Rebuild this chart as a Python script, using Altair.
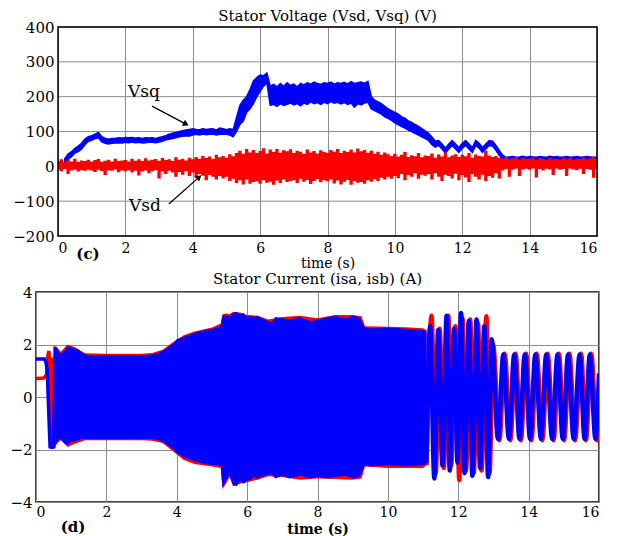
import altair as alt
import pandas as pd

FONT = "DejaVu Serif"

# ---------------- Top panel: stator voltage ----------------
vsd_hi = [15, 20, 12, 18, 14, 22, 13, 17, 15, 19,
          14, 18, 21, 13, 16, 19, 14, 22, 15, 17,
          18, 14, 22, 16, 20, 15, 23, 17, 19, 21,
          16, 24, 18, 20, 15, 26, 19, 22, 17, 25,
          20, 27, 22, 30, 24, 28, 21, 33, 26, 30,
          25, 35, 29, 38, 45, 36, 50, 40, 47, 38,
          44, 52, 37, 48, 41, 50, 39, 46, 43, 49,
          38, 45, 42, 36, 48, 40, 44, 37, 46, 41,
          39, 47, 42, 50, 38, 45, 41, 48, 40, 51,
          43, 47, 39, 45, 36, 42, 33, 40, 35, 30,
          36, 28, 33, 41, 27, 32, 29, 38, 26, 31,
          30, 37, 25, 34, 28, 40, 26, 31, 35, 27,
          33, 29, 38, 25, 34, 30, 28, 45, 31, 27,
          30, 24, 22, 27, 20, 23, 26, 19, 24, 21,
          22, 25, 19, 23, 21, 18, 24, 20, 22, 19,
          23, 20, 24, 18, 22, 21, 25, 19, 23, 26,
          20]
vsd_lo = [-10, -14, -8, -22, -12, -9, -15, -11, -13, -10,
          -12, -16, -10, -14, -25, -11, -13, -9, -17, -12,
          -14, -11, -18, -13, -26, -15, -12, -20, -14, -11,
          -35, -15, -22, -13, -18, -30, -16, -24, -14, -28,
          -18, -33, -22, -27, -40, -25, -30, -38, -28, -35,
          -30, -42, -36, -48, -40, -52, -38, -50, -45, -43,
          -50, -40, -47, -44, -53, -41, -48, -38, -45, -42,
          -40, -48, -36, -44, -39, -51, -42, -37, -46, -40,
          -43, -38, -49, -41, -52, -44, -39, -53, -42, -47,
          -45, -50, -40, -44, -37, -42, -33, -38, -30, -36,
          -28, -34, -22, -40, -25, -30, -20, -36, -24, -27,
          -22, -38, -20, -30, -42, -24, -28, -35, -21, -40,
          -25, -32, -45, -22, -30, -38, -24, -42, -28, -33,
          -20, -35, -12, -8, -30, -10, -6, -28, -9, -7,
          -10, -6, -32, -8, -12, -7, -9, -25, -6, -10,
          -8, -28, -6, -9, -11, -7, -22, -8, -10, -33,
          -8]
vsd_t = [i / 10 for i in range(len(vsd_hi))]

vsq_lo = [10, 20, 28, 38, 42, 50, 62, 72,
          75, 80, 82, 70, 66, 64, 66, 67, 68, 67,
          69, 68, 70, 68, 69, 67, 68, 70, 69, 68,
          70, 72, 76, 78, 80, 82, 85, 86, 88, 87,
          90, 92, 90, 93, 91, 92, 93, 90, 92, 93,
          92, 90, 85, 100, 120, 130, 155, 165, 180, 200,
          215, 230, 240, 175, 178, 172, 180, 175, 178, 182,
          176, 180, 174, 182, 178, 185, 180, 183, 178, 184,
          180, 186, 181, 184, 179, 183, 178, 182, 170, 180,
          176, 182, 184, 165, 160, 155, 150, 142, 138, 132,
          125, 120, 114, 110, 104, 100, 95, 90, 85, 80,
          74, 62, 55, 60, 50, 38, 50, 60, 50, 40,
          52, 60, 50, 40, 60, 52, 40, 50, 60, 58,
          46, 32, 20, 14, 16, 15, 17, 14, 16, 15,
          17, 15, 16, 14, 16, 15, 17, 15, 16, 14,
          16, 15, 17, 15, 16, 14, 16, 15, 17, 15,
          16]
vsq_hi = [22, 35, 42, 52, 58, 66, 78, 85,
          88, 92, 97, 85, 80, 78, 80, 80, 82, 81,
          83, 82, 83, 81, 82, 80, 82, 81, 82, 80,
          83, 85, 88, 92, 95, 97, 100, 102, 104, 106,
          108, 106, 105, 108, 106, 107, 108, 104, 110, 108,
          105, 108, 105, 140, 175, 190, 200, 220, 245, 255,
          262, 260, 268, 230, 235, 228, 238, 230, 240, 232,
          236, 228, 238, 234, 240, 236, 242, 238, 235, 240,
          238, 242, 236, 240, 238, 241, 236, 243, 238, 240,
          242, 238, 244, 200, 190, 185, 180, 172, 165, 160,
          155, 150, 142, 138, 130, 126, 120, 115, 108, 102,
          95, 84, 72, 74, 64, 52, 64, 74, 64, 54,
          66, 74, 64, 54, 74, 66, 54, 64, 74, 72,
          60, 46, 32, 26, 27, 28, 26, 27, 29, 26,
          28, 27, 26, 28, 27, 26, 29, 27, 28, 26,
          27, 28, 26, 27, 28, 26, 27, 28, 27, 26,
          27]
vsq_t = [i / 10 for i in range(2, 2 + len(vsq_hi))]

arrow_grp = ["q", "q", "d", "d"]
arrow_t = [2.79, 3.80, 3.29, 4.19]
arrow_v = [173, 121, -108, -31]
head_t = [3.80, 4.19]
head_v = [121, -31]
head_angle = [118, 48]
label_txt = ["Vsq", "Vsd"]
label_t = [2.55, 2.58]
label_v = [213, -114]

# ---------------- Bottom panel: stator current ----------------
ib_env_t = [0.55, 0.6, 0.7, 0.8, 0.9, 1.0, 1.1, 1.2, 1.3, 1.4,
            1.5, 2.0, 2.5, 3.0, 3.3, 3.5, 3.7, 3.9, 4.0, 4.2,
            4.5, 4.8, 5.0, 5.2, 5.25, 5.3, 5.4, 5.5, 5.6, 5.7,
            5.8, 5.9, 6.0, 6.1, 6.2, 6.3, 6.5, 6.7, 6.8, 7.0,
            7.2, 7.5, 7.8, 8.0, 8.3, 8.5, 8.8, 9.0, 9.2, 9.3,
            9.35, 9.5, 10.0, 10.5, 11.0, 11.1]
ib_env_hi = [1.9, 1.85, 1.65, 1.75, 1.95, 1.9, 1.85, 1.82, 1.7, 1.62,
             1.6, 1.6, 1.6, 1.6, 1.62, 1.7, 1.85, 2.05, 2.2, 2.3,
             2.45, 2.55, 2.6, 2.68, 2.75, 3.1, 3.12, 3.08, 3.2, 3.25,
             3.15, 3.2, 3.05, 3.1, 3.05, 3.1, 2.95, 2.85, 3.05, 3.0,
             2.95, 3.05, 2.9, 2.95, 3.05, 3.1, 3.0, 3.1, 3.05, 2.75,
             2.65, 2.62, 2.65, 2.6, 2.55, 2.5]
ib_env_lo = [-1.9, -1.7, -1.6, -1.75, -1.85, -1.7, -1.7, -1.65, -1.6, -1.6,
             -1.6, -1.6, -1.6, -1.6, -1.6, -1.65, -1.8, -2.0, -2.15, -2.3,
             -2.45, -2.55, -2.6, -2.6, -2.65, -3.45, -3.2, -3.0, -3.35, -3.4,
             -3.2, -3.3, -3.2, -3.15, -3.05, -3.1, -3.0, -2.95, -3.1, -3.0,
             -3.1, -3.0, -3.1, -3.05, -3.1, -3.05, -3.0, -3.1, -3.05, -2.75,
             -2.6, -2.65, -2.6, -2.65, -2.6, -2.55]
ia_env_t = [0.5, 0.6, 0.7, 0.9, 1.1, 1.4, 2.0, 3.0, 3.3, 3.6,
            3.9, 4.2, 4.5, 5.0, 5.25, 5.3, 5.4, 5.5, 5.6, 5.8,
            6.0, 6.3, 6.6, 7.0, 7.5, 8.0, 8.5, 9.0, 9.25, 9.35,
            10.0, 10.5, 11.0, 11.1]
ia_env_hi = [1.95, 1.9, 1.72, 2.0, 1.9, 1.67, 1.65, 1.65, 1.68, 1.8,
             2.1, 2.35, 2.5, 2.65, 2.8, 3.15, 3.18, 3.15, 3.25, 3.22,
             3.12, 3.1, 2.95, 3.05, 3.1, 3.0, 3.12, 3.12, 3.08, 2.7,
             2.68, 2.66, 2.62, 2.55]
ia_env_lo = [-1.95, -1.78, -1.65, -1.9, -1.78, -1.65, -1.65, -1.65, -1.67, -1.75,
             -2.08, -2.4, -2.55, -2.65, -2.7, -3.5, -3.3, -3.05, -3.4, -3.3,
             -3.25, -3.15, -3.02, -3.05, -3.15, -3.1, -3.12, -3.15, -3.1, -2.65,
             -2.7, -2.7, -2.7, -2.6]

ia_start_t = [0, 0.22, 0.26, 0.3, 0.34, 0.37, 0.4, 0.43, 0.46, 0.5]
ia_start_v = [0.7, 0.72, 0.78, 0.85, 1.6, 1.75, 0.5, -1.9, 1.5, -1.95]
ib_start_t = [0, 0.24, 0.28, 0.32, 0.36, 0.4, 0.45, 0.5, 0.55]
ib_start_v = [1.45, 1.45, 1.35, 1.0, -0.5, -1.9, -1.92, -1.9, 1.9]

ia_osc_t = [11.1, 11.24, 11.36, 11.47, 11.59, 11.72, 11.8, 11.92, 12.03, 12.12,
            12.22, 12.34, 12.44, 12.56, 12.66, 12.8, 12.89, 12.99, 13.17, 13.32,
            13.48, 13.63, 13.78, 13.93, 14.08, 14.23, 14.39, 14.54, 14.71, 14.86,
            15.01, 15.16, 15.32, 15.49, 15.63, 15.78, 15.94, 16.0]
ia_osc_v = [-2.6, 3.1, -2.9, 2.6, -2.7, 3.1, -2.6, 2.7, -3.16, 3.0,
            -2.8, 2.95, -2.9, 2.8, -2.8, 3.08, -2.9, 2.0, -1.65, 1.65,
            -1.65, 1.65, -1.65, 1.65, -1.65, 1.65, -1.65, 1.65, -1.65, 1.65,
            -1.65, 1.65, -1.65, 1.65, -1.65, 1.65, -1.65, -0.8]
ib_osc_t = [11.1, 11.2, 11.32, 11.43, 11.55, 11.67, 11.76, 11.88, 11.98, 12.08,
            12.18, 12.3, 12.4, 12.52, 12.62, 12.74, 12.85, 12.95, 13.13, 13.28,
            13.44, 13.59, 13.74, 13.89, 14.04, 14.19, 14.35, 14.5, 14.67, 14.82,
            14.97, 15.12, 15.28, 15.45, 15.59, 15.74, 15.9, 16.0]
ib_osc_v = [-2.5, 2.7, -3.1, 2.55, -2.6, 3.1, -2.8, 2.6, -2.5, 3.2,
            -2.9, 2.9, -3.0, 2.95, -2.7, 2.7, -3.05, 2.2, -1.6, 1.62,
            -1.6, 1.62, -1.6, 1.62, -1.6, 1.62, -1.6, 1.62, -1.6, 1.62,
            -1.6, 1.62, -1.6, 1.62, -1.6, 1.62, -1.6, 0.9]

x_ticks = [0, 2, 4, 6, 8, 10, 12, 14, 16]
v_ticks = [-200, -100, 0, 100, 200, 300, 400]
i_ticks = [-4, -2, 0, 2, 4]

BLUE = "#0000FF"
RED = "#FF0000"
GRID = "#8c8c8c"

# ---------------- top chart ----------------
# The top panel shares its left origin with the bottom one; its plot frame
# starts 22 px further right, so the x range and y axis are shifted.
SHIFT = 22
TW, TH = 561, 209
xt = alt.X("t:Q", scale=alt.Scale(domain=[0, 16], range=[SHIFT, TW], nice=False),
           axis=alt.Axis(values=x_ticks, title="time (s)", titleFontWeight="normal",
                         titlePadding=1, labelPadding=5))
yt_axis = alt.Axis(values=v_ticks, title=None, grid=False, offset=-SHIFT)
yt_scale = alt.Scale(domain=[-200, 400], nice=False)

grid_df = pd.DataFrame({"v": v_ticks, "t": [0] * len(v_ticks), "t1": [16] * len(v_ticks)})
ygrid = alt.Chart(grid_df).mark_rule(color=GRID, strokeWidth=1).encode(
    x=xt, x2="t1:Q", y=alt.Y("v:Q", scale=yt_scale, axis=yt_axis))
frame_df = pd.DataFrame({"t": [0], "t1": [16], "v": [-200], "v1": [400]})
frame = alt.Chart(frame_df).mark_rect(fillOpacity=0, stroke="black", strokeWidth=1.5).encode(
    x=xt, x2="t1:Q", y=alt.Y("v:Q", scale=yt_scale, axis=yt_axis), y2="v1:Q")

vsq_df = pd.DataFrame({"t": vsq_t, "lo": vsq_lo, "hi": vsq_hi})
vsd_df = pd.DataFrame({"t": vsd_t, "lo": vsd_lo, "hi": vsd_hi})

vsq_layer = alt.Chart(vsq_df).mark_area(color=BLUE, opacity=1, clip=True,
                                        stroke=BLUE, strokeWidth=1.5).encode(
    x=xt, y=alt.Y("lo:Q", scale=yt_scale, axis=yt_axis), y2="hi:Q")
vsd_layer = alt.Chart(vsd_df).mark_area(color=RED, opacity=1, interpolate="step", clip=True).encode(
    x=xt, y=alt.Y("lo:Q", scale=yt_scale, axis=yt_axis), y2="hi:Q")

arrow_df = pd.DataFrame({"t": arrow_t, "v": arrow_v, "g": arrow_grp})
arrows = alt.Chart(arrow_df).mark_line(color="black", strokeWidth=1.3).encode(
    x=xt, y=alt.Y("v:Q", scale=yt_scale, axis=yt_axis), detail="g:N")
head_df = pd.DataFrame({"t": head_t, "v": head_v, "a": head_angle})
heads = alt.Chart(head_df).mark_point(shape="triangle-up", filled=True, color="black",
                                      size=45, opacity=1).encode(
    x=xt, y=alt.Y("v:Q", scale=yt_scale, axis=yt_axis),
    angle=alt.Angle("a:Q", scale=None))
lab_df = pd.DataFrame({"t": label_t, "v": label_v, "s": label_txt})
labels = alt.Chart(lab_df).mark_text(font=FONT, fontSize=17, color="black").encode(
    x=xt, y=alt.Y("v:Q", scale=yt_scale, axis=yt_axis), text="s:N")
tag_c = alt.Chart(pd.DataFrame({"s": ["(c)"]})).mark_text(
    font=FONT, fontSize=15, fontWeight="bold", color="black").encode(
    x=alt.value(52), y=alt.value(TH + 18), text="s:N")

top = alt.layer(ygrid, vsq_layer, vsd_layer, arrows, heads, labels, frame, tag_c).properties(
    width=TW, height=TH,
    view=alt.ViewBackground(stroke="transparent"),
    title=alt.TitleParams("Stator Voltage (Vsd, Vsq) (V)", frame="group",
                          offset=-4, dx=SHIFT / 2))

# ---------------- bottom chart ----------------
BW, BH = 563, 210
xb = alt.X("t:Q", scale=alt.Scale(domain=[0, 16], nice=False),
           axis=alt.Axis(values=x_ticks, title="time (s)", titleFontWeight="bold",
                         titlePadding=3, labelPadding=3))
yb_axis = alt.Axis(values=i_ticks, title=None)
yb_scale = alt.Scale(domain=[-4, 4], nice=False)

ia_env = alt.Chart(pd.DataFrame({"t": ia_env_t, "lo": ia_env_lo, "hi": ia_env_hi})).mark_area(
    color=RED, opacity=1, clip=True).encode(
    x=xb, y=alt.Y("lo:Q", scale=yb_scale, axis=yb_axis), y2="hi:Q")
ib_env = alt.Chart(pd.DataFrame({"t": ib_env_t, "lo": ib_env_lo, "hi": ib_env_hi})).mark_area(
    color=BLUE, opacity=1, clip=True).encode(
    x=xb, y=alt.Y("lo:Q", scale=yb_scale, axis=yb_axis), y2="hi:Q")

ia_start = alt.Chart(pd.DataFrame({"t": ia_start_t, "v": ia_start_v})).mark_line(
    color=RED, strokeWidth=3.5, clip=True).encode(
    x=xb, y=alt.Y("v:Q", scale=yb_scale, axis=yb_axis))
ib_start = alt.Chart(pd.DataFrame({"t": ib_start_t, "v": ib_start_v})).mark_line(
    color=BLUE, strokeWidth=3.5, clip=True).encode(
    x=xb, y=alt.Y("v:Q", scale=yb_scale, axis=yb_axis))
ia_osc = alt.Chart(pd.DataFrame({"t": ia_osc_t, "v": ia_osc_v})).mark_line(
    color=RED, strokeWidth=4.5, interpolate="monotone", clip=True).encode(
    x=xb, y=alt.Y("v:Q", scale=yb_scale, axis=yb_axis))
ib_osc = alt.Chart(pd.DataFrame({"t": ib_osc_t, "v": ib_osc_v})).mark_line(
    color=BLUE, strokeWidth=4.5, interpolate="monotone", clip=True).encode(
    x=xb, y=alt.Y("v:Q", scale=yb_scale, axis=yb_axis))
tag_d = alt.Chart(pd.DataFrame({"s": ["(d)"]})).mark_text(
    font=FONT, fontSize=15, fontWeight="bold", color="black").encode(
    x=alt.value(37), y=alt.value(BH + 25), text="s:N")

bottom = alt.layer(ia_start, ia_env, ia_osc, ib_start, ib_env, ib_osc, tag_d).properties(
    width=BW, height=BH,
    title=alt.TitleParams("Stator Current (isa, isb) (A)", frame="group", offset=-2))

chart = alt.vconcat(top, bottom, spacing=0).properties(
    padding={"left": 1, "top": 0, "right": 0, "bottom": 0}
).configure_view(
    stroke="black", strokeWidth=1.5
).configure_axis(
    labelFont=FONT, labelFontSize=15, labelColor="black", labelPadding=4,
    titleFont=FONT, titleFontSize=14, titleColor="black",
    grid=True, gridColor=GRID, gridWidth=1, gridOpacity=1,
    ticks=False, domain=False
).configure_axisX(
    labelFontSize=14
).configure_title(
    font=FONT, fontSize=15, fontWeight="normal", color="black"
)

chart.save("out.html", embed_options={"renderer": "svg", "actions": False})
